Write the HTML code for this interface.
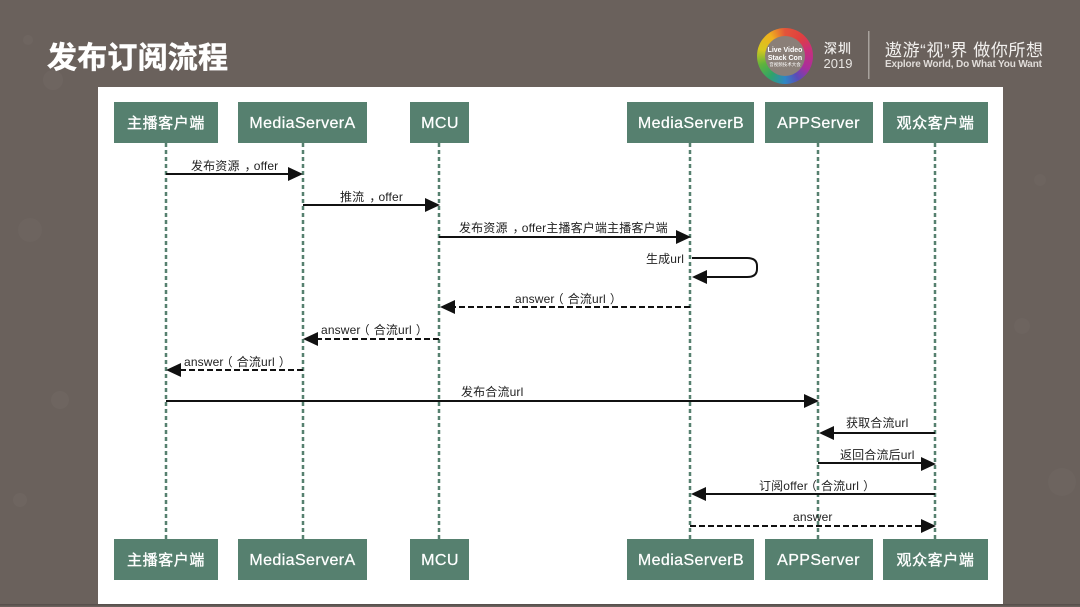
<!DOCTYPE html>
<html lang="zh">
<head>
<meta charset="utf-8">
<title>发布订阅流程</title>
<style>
html,body{margin:0;padding:0;background:#6a615c}
svg{display:block;filter:blur(.35px)}
text{font-family:"Liberation Sans","Noto Sans CJK SC",sans-serif}
.box{fill:#56806f}
.bt{fill:#fff;font-size:16px;text-anchor:middle;letter-spacing:.4px;stroke:#fff;stroke-width:.25}
.bc{fill:#fff;font-size:15px;text-anchor:middle;letter-spacing:.6px;stroke:#fff;stroke-width:.35}
.life{stroke:#56806f;stroke-width:2.5;stroke-dasharray:4 3;fill:none}
.m{stroke:#111;stroke-width:2;fill:none}
.d{stroke:#111;stroke-width:2;stroke-dasharray:6 3;fill:none}
.l{fill:#222;font-size:12px;letter-spacing:.15px}
.h{fill:#111}
</style>
</head>
<body>
<svg width="1080" height="607" viewBox="0 0 1080 607" xmlns="http://www.w3.org/2000/svg">
<rect width="1080" height="607" fill="#6a615c"/>
<g fill="#fff" opacity=".025">
<circle cx="28" cy="40" r="5"/><circle cx="53" cy="80" r="10"/><circle cx="30" cy="230" r="12"/><circle cx="60" cy="400" r="9"/><circle cx="1062" cy="482" r="14"/><circle cx="1022" cy="326" r="8"/><circle cx="1040" cy="180" r="6"/><circle cx="20" cy="500" r="7"/>
</g>
<text x="47" y="68" font-size="30" font-weight="700" fill="#fff" stroke="#fff" stroke-width=".5" letter-spacing=".2">发布订阅流程</text>

<!-- logo -->
<foreignObject x="757" y="28" width="56" height="56">
<div xmlns="http://www.w3.org/1999/xhtml" style="width:56px;height:56px;border-radius:50%;background:conic-gradient(#e2543a 0deg,#e0403f 40deg,#c92f7a 75deg,#a92f9c 120deg,#5a4bb8 150deg,#2f86c4 180deg,#2fa36a 215deg,#5fb33c 250deg,#d6c81f 285deg,#f0b01e 325deg,#e2543a 360deg)"></div>
</foreignObject>
<circle cx="785" cy="56" r="20" fill="#8a7f78"/>
<text x="785" y="52" font-size="7" font-weight="700" fill="#fff" text-anchor="middle">Live Video</text>
<text x="785" y="60" font-size="7" font-weight="700" fill="#fff" text-anchor="middle">Stack Con</text>
<text x="785" y="66" font-size="4.500" fill="#fff" text-anchor="middle">音视频技术大会</text>
<text x="838" y="53" font-size="13" fill="#f0eeec" text-anchor="middle" letter-spacing="1" stroke="#f0eeec" stroke-width=".25">深圳</text>
<text x="838" y="68" font-size="13" fill="#e8e5e2" text-anchor="middle">2019</text>
<rect x="868" y="31" width="1.500" height="48" fill="#a8a29d"/>
<text x="885" y="56" font-size="17" fill="#f2f0ee" textLength="158">遨游“视”界 做你所想</text>
<text x="885" y="67" font-size="10" font-weight="700" fill="#e0dcd9" textLength="157">Explore World, Do What You Want</text>

<!-- panel -->
<rect x="98" y="87" width="905" height="517" fill="#fff"/>
<rect x="0" y="604" width="1080" height="1.500" fill="#57504c"/>

<!-- lifelines -->
<path class="life" d="M166 143V539M303 143V539M439 143V539M690 143V539M818 143V539M935 143V539"/>

<!-- top boxes -->
<rect class="box" x="114" y="102" width="104" height="41"/>
<rect class="box" x="238" y="102" width="129" height="41"/>
<rect class="box" x="410" y="102" width="59" height="41"/>
<rect class="box" x="627" y="102" width="127" height="41"/>
<rect class="box" x="765" y="102" width="108" height="41"/>
<rect class="box" x="883" y="102" width="105" height="41"/>
<text class="bc" x="166" y="128">主播客户端</text>
<text class="bt" x="302.500" y="128">MediaServerA</text>
<text class="bt" x="440" y="128">MCU</text>
<text class="bt" x="691" y="128">MediaServerB</text>
<text class="bt" x="818.500" y="128">APPServer</text>
<text class="bc" x="935.500" y="128">观众客户端</text>

<!-- bottom boxes -->
<rect class="box" x="114" y="539" width="104" height="41"/>
<rect class="box" x="238" y="539" width="129" height="41"/>
<rect class="box" x="410" y="539" width="59" height="41"/>
<rect class="box" x="627" y="539" width="127" height="41"/>
<rect class="box" x="765" y="539" width="108" height="41"/>
<rect class="box" x="883" y="539" width="105" height="41"/>
<text class="bc" x="166" y="565">主播客户端</text>
<text class="bt" x="302.500" y="565">MediaServerA</text>
<text class="bt" x="440" y="565">MCU</text>
<text class="bt" x="691" y="565">MediaServerB</text>
<text class="bt" x="818.500" y="565">APPServer</text>
<text class="bc" x="935.500" y="565">观众客户端</text>

<!-- messages -->
<path class="m" d="M166 174H290"/><path class="h" d="M303 174L288 167V181Z"/>
<text class="l" x="191" y="170">发布资源<tspan dx="5">，</tspan><tspan dx="-3">offer</tspan></text>

<path class="m" d="M303 205H427"/><path class="h" d="M440 205L425 198V212Z"/>
<text class="l" x="340" y="201">推流<tspan dx="5">，</tspan><tspan dx="-3">offer</tspan></text>

<path class="m" d="M439 237H678"/><path class="h" d="M691 237L676 230V244Z"/>
<text class="l" x="459" y="232">发布资源<tspan dx="5">，</tspan><tspan dx="-3">offer主播客户端主播客户端</tspan></text>

<path class="m" d="M692 258H747Q757 258 757 266V269Q757 277 747 277H705"/><path class="h" d="M692 277L707 270V284Z"/>
<text class="l" x="646" y="263">生成url</text>

<path class="d" d="M690 307H452"/><path class="h" d="M440 307L455 300V314Z"/>
<text class="l" x="515" y="303">answer<tspan dx="-3">（</tspan><tspan dx="4">合流url</tspan><tspan dx="4">）</tspan></text>

<path class="d" d="M439 339H316"/><path class="h" d="M303 339L318 332V346Z"/>
<text class="l" x="321" y="334">answer<tspan dx="-3">（</tspan><tspan dx="4">合流url</tspan><tspan dx="4">）</tspan></text>

<path class="d" d="M303 370H179"/><path class="h" d="M166 370L181 363V377Z"/>
<text class="l" x="184" y="366">answer<tspan dx="-3">（</tspan><tspan dx="4">合流url</tspan><tspan dx="4">）</tspan></text>

<path class="m" d="M166 401H806"/><path class="h" d="M819 401L804 394V408Z"/>
<text class="l" x="461" y="396">发布合流url</text>

<path class="m" d="M935 433H832"/><path class="h" d="M819 433L834 426V440Z"/>
<text class="l" x="846" y="427">获取合流url</text>

<path class="m" d="M818 463H922"/><path class="h" d="M936 464L921 457V471Z"/>
<text class="l" x="840" y="459">返回合流后url</text>

<path class="m" d="M935 494H704"/><path class="h" d="M691 494L706 487V501Z"/>
<text class="l" x="759" y="490">订阅offer<tspan dx="-3">（</tspan><tspan dx="4">合流url</tspan><tspan dx="4">）</tspan></text>

<path class="d" d="M690 526H922"/><path class="h" d="M936 526L921 519V533Z"/>
<text class="l" x="793" y="521">answer</text>
</svg>
</body>
</html>
